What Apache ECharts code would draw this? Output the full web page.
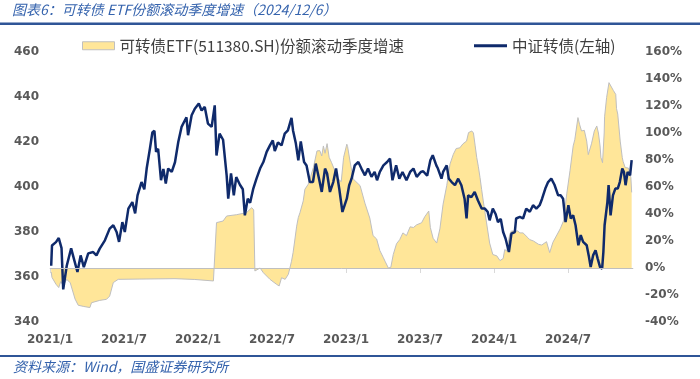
<!DOCTYPE html>
<html><head><meta charset="utf-8">
<script src="https://cdn.jsdelivr.net/npm/echarts@6/dist/echarts.min.js"></script>
<style>html,body{margin:0;padding:0;background:#fff}#c{width:700px;height:379px}</style>
</head><body><div id="c"></div>
<script>
const tickLabels = ['2021/1','2021/7','2022/1','2022/7','2023/1','2023/7','2024/1','2024/7'];
const etfName = '可转债ETF(511380.SH)份额滚动季度增速';
const cbName = '中证转债(左轴)';

const cbDates = ['2021-01-04','2021-01-06','2021-01-16','2021-01-23','2021-01-30','2021-02-03','2021-02-11','2021-02-21','2021-02-27','2021-03-08','2021-03-16','2021-03-24','2021-04-04','2021-04-16','2021-04-24','2021-05-02','2021-05-15','2021-05-27','2021-06-05','2021-06-13','2021-06-19','2021-06-27','2021-07-03','2021-07-12','2021-07-22','2021-07-29','2021-08-04','2021-08-14','2021-08-21','2021-08-27','2021-09-04','2021-09-10','2021-09-15','2021-09-19','2021-09-24','2021-10-01','2021-10-07','2021-10-13','2021-10-19','2021-10-28','2021-11-05','2021-11-13','2021-11-21','2021-12-03','2021-12-07','2021-12-16','2021-12-24','2022-01-03','2022-01-10','2022-01-18','2022-01-26','2022-02-04','2022-02-11','2022-02-15','2022-02-22','2022-03-02','2022-03-11','2022-03-15','2022-03-22','2022-03-29','2022-04-04','2022-04-13','2022-04-20','2022-04-25','2022-05-02','2022-05-08','2022-05-16','2022-05-24','2022-06-02','2022-06-10','2022-06-18','2022-06-26','2022-07-03','2022-07-08','2022-07-16','2022-07-25','2022-08-02','2022-08-10','2022-08-19','2022-08-23','2022-08-30','2022-09-05','2022-09-11','2022-09-19','2022-09-25','2022-10-03','2022-10-11','2022-10-18','2022-10-27','2022-11-02','2022-11-10','2022-11-15','2022-11-22','2022-11-30','2022-12-07','2022-12-15','2022-12-23','2023-01-03','2023-01-09','2023-01-15','2023-01-23','2023-02-01','2023-02-08','2023-02-16','2023-02-23','2023-03-03','2023-03-11','2023-03-17','2023-03-24','2023-04-02','2023-04-11','2023-04-18','2023-04-24','2023-05-03','2023-05-11','2023-05-19','2023-05-29','2023-06-07','2023-06-15','2023-06-23','2023-07-03','2023-07-09','2023-07-19','2023-07-27','2023-08-02','2023-08-11','2023-08-15','2023-08-24','2023-08-28','2023-09-06','2023-09-11','2023-09-18','2023-09-26','2023-10-04','2023-10-12','2023-10-20','2023-10-25','2023-10-29','2023-11-06','2023-11-14','2023-11-22','2023-12-01','2023-12-09','2023-12-16','2023-12-21','2023-12-29','2024-01-05','2024-01-11','2024-01-18','2024-01-24','2024-01-30','2024-02-07','2024-02-13','2024-02-21','2024-02-24','2024-03-04','2024-03-12','2024-03-20','2024-03-29','2024-04-06','2024-04-14','2024-04-22','2024-04-28','2024-05-06','2024-05-13','2024-05-21','2024-05-29','2024-06-07','2024-06-13','2024-06-19','2024-06-25','2024-07-02','2024-07-08','2024-07-14','2024-07-20','2024-07-27','2024-08-02','2024-08-08','2024-08-17','2024-08-22','2024-08-27','2024-09-02','2024-09-08','2024-09-13','2024-09-19','2024-09-24','2024-09-27','2024-09-30','2024-10-07','2024-10-10','2024-10-15','2024-10-21','2024-10-27','2024-11-02','2024-11-07','2024-11-13','2024-11-17','2024-11-21','2024-11-26','2024-12-02','2024-12-06'];
const cbValues = [365,374,375.5,377.3,372.8,354.5,365,372.7,368.3,362.2,369.6,364.4,370.5,371.1,369.6,372.6,376.3,381.5,383,380,375.6,384.4,380,390.4,393.3,388.3,396.3,402.2,399,408.2,417,424.2,425,415.6,417,403,408,401.5,408.2,406.7,411,420,426.7,431,423,431.9,434.8,437.1,434,435.6,428.2,426.7,436.3,414,423.7,421,405.2,394.8,406,396.3,404.4,401,399,387.4,394.8,393,399.3,403.7,408.2,411.1,415.6,418.5,420.7,416,419.8,418.5,423.7,425.2,430.7,425,419.3,411.9,420.3,411.1,409.6,402.2,402.2,410.4,403,397.8,408.2,406,397.8,402.2,408.2,399.3,388.9,394.8,400.8,403.7,409.6,411.1,408.2,405.2,408.2,404.5,406.7,403,406.7,409.6,411.1,412.6,403,409.6,403.7,406.7,403,406.7,408.2,404.5,406.7,407,405,411.9,414.1,409.6,408.2,403.7,406.7,409.6,403.7,402.2,400.8,403.7,400.8,394.8,386,396.3,395.5,397.8,394,390.4,390.4,389,385.2,390.4,388,384.4,385.8,380,377.1,371.1,379.3,380,386,386.7,386,390.4,389,391.9,390.4,391.9,394.8,399.3,402.2,403.7,401,396.3,396.3,394.8,384.4,391.9,386,387.4,383,374.1,378.6,375.6,374.1,369.6,364.4,369.6,371.9,368.3,364.4,363.7,371,383,393.3,400.8,387.4,396.3,399.3,399.3,402.2,408.2,406.7,400.8,406.7,405.2,411.9];

const etfDates = ['2021-01-04','2021-01-06','2021-01-16','2021-01-23','2021-01-28','2021-02-03','2021-02-11','2021-02-19','2021-03-02','2021-03-10','2021-03-24','2021-04-08','2021-04-12','2021-04-16','2021-05-02','2021-05-19','2021-05-27','2021-06-05','2021-06-17','2021-08-10','2021-11-05','2021-12-24','2022-02-08','2022-02-12','2022-02-15','2022-03-02','2022-03-11','2022-04-05','2022-04-29','2022-05-12','2022-05-17','2022-05-20','2022-05-24','2022-06-02','2022-06-10','2022-06-26','2022-07-12','2022-07-19','2022-07-25','2022-08-03','2022-08-11','2022-08-15','2022-08-19','2022-08-23','2022-08-27','2022-09-01','2022-09-05','2022-09-09','2022-09-17','2022-09-21','2022-09-29','2022-10-03','2022-10-12','2022-10-16','2022-10-21','2022-10-24','2022-10-28','2022-11-02','2022-11-06','2022-11-10','2022-11-15','2022-11-20','2022-11-26','2022-12-04','2022-12-12','2022-12-20','2022-12-26','2023-01-03','2023-01-05','2023-01-11','2023-01-19','2023-02-05','2023-02-16','2023-02-27','2023-03-07','2023-03-16','2023-03-24','2023-04-02','2023-04-06','2023-04-14','2023-04-20','2023-04-26','2023-05-04','2023-05-12','2023-05-20','2023-05-29','2023-06-07','2023-06-15','2023-06-23','2023-07-05','2023-07-13','2023-07-23','2023-07-27','2023-08-03','2023-08-12','2023-08-20','2023-08-28','2023-09-06','2023-09-14','2023-09-22','2023-09-29','2023-10-08','2023-10-16','2023-10-25','2023-10-30','2023-11-07','2023-11-11','2023-11-15','2023-11-19','2023-11-23','2023-11-27','2023-12-01','2023-12-05','2023-12-13','2023-12-21','2023-12-29','2024-01-08','2024-01-16','2024-01-20','2024-01-24','2024-01-28','2024-02-02','2024-02-09','2024-02-13','2024-02-17','2024-02-28','2024-03-04','2024-03-12','2024-03-24','2024-03-29','2024-04-07','2024-04-19','2024-04-27','2024-05-09','2024-05-17','2024-05-21','2024-05-25','2024-05-29','2024-06-12','2024-06-20','2024-06-28','2024-07-06','2024-07-14','2024-07-18','2024-07-26','2024-07-30','2024-08-04','2024-08-11','2024-08-17','2024-08-21','2024-08-23','2024-08-29','2024-09-05','2024-09-11','2024-09-15','2024-09-19','2024-09-21','2024-09-25','2024-09-29','2024-09-30','2024-10-05','2024-10-11','2024-10-15','2024-10-22','2024-10-28','2024-10-30','2024-11-02','2024-11-08','2024-11-13','2024-11-15','2024-11-20','2024-11-28','2024-12-04','2024-12-06'];
const etfGrowth = [-3,-7,-12,-14.5,-10,-13,-8.4,-11,-23,-27.6,-28.5,-29.3,-25.7,-24.4,-24,-23.2,-20.8,-10.8,-8.4,-8.2,-7.9,-8.5,-9.6,-9.6,33.6,34.8,38.5,39.5,41,44.7,43,-2.2,-2,0,-3.5,-8.4,-12,-13.3,-7.2,-8.4,-4.7,0,5,11.4,20,31,37.4,41,49.7,58.3,62,65.7,74.4,75.6,86.7,88,87,83,90.4,85,92.1,82,78,72,66,64,82,91.7,90,79.3,66,61,48,37,24,21.5,13,7.6,5,0,0.5,10,18,21,26,24,30.5,30,32,33.5,38,42.2,30,22,18.5,29,47.2,61,77,84.2,88.5,89,92,94,100.3,101.5,100,91,81.8,75,67,58,49.7,34,18.5,10,9,5.5,6.3,7,13.7,12.6,25,27.4,28.7,27.4,26,26,22.5,21,20,17.6,17,19.5,11.4,10.6,19,18,29,34.8,55,72,90.4,95,111.4,106.5,101.5,102,94,84,86,92,101.5,105.2,100,90.4,82,78,100,112,126.2,137.3,136,131.5,128.6,118,114,94,81.8,79,74.4,74,67,56];

function toMonths(s){
  const p = s.split('-').map(Number);
  const dim = new Date(p[0], p[1], 0).getDate();
  return (p[0]-2021)*12 + (p[1]-1) + (p[2]-1)/dim;
}
const tickValues = tickLabels.map((_, i) => i*6);
const cbData = cbDates.map((d, i) => [toMonths(d), cbValues[i]]);
const etfData = etfDates.map((d, i) => [toMonths(d), etfGrowth[i]]);

const axisFont = {fontFamily:'DejaVu Sans', fontWeight:'bold', fontSize:12, color:'#595959'};
const legendText = {fontFamily:'Noto Sans CJK SC', fontSize:15.5, color:'#404040'};
const chart = echarts.init(document.getElementById('c'), null, {renderer:'canvas'});
chart.setOption({
  animation:false,
  backgroundColor:'#ffffff',
  grid:{left:50, right:67, top:52, bottom:57, containLabel:false},
  legend:[
    {left:82, top:38, padding:0, itemWidth:32, itemHeight:8, itemGap:0, selectedMode:false,
     textStyle:legendText,
     data:[{name:etfName, icon:'rect', itemStyle:{color:'#FFE699', borderColor:'#bfbfbf', borderWidth:1}}]},
    {left:474, top:38, padding:0, itemWidth:33, itemHeight:3, itemGap:0, selectedMode:false,
     textStyle:legendText,
     data:[{name:cbName, icon:'rect', itemStyle:{color:'#0f2a6b'}}]}
  ],
  xAxis:{type:'value', min:0, max:47.27, interval:6,
    splitLine:{show:false},
    axisLine:{show:true, lineStyle:{color:'#d9d9d9', width:1}},
    axisTick:{show:true, length:5, lineStyle:{color:'#d9d9d9'}, customValues:tickValues},
    axisLabel:Object.assign({margin:12, customValues:tickValues,
      formatter:(v)=>tickLabels[Math.round(v/6)]||''}, axisFont)
  },
  yAxis:[
    {type:'value', min:340, max:460, interval:20, position:'left',
     splitLine:{show:false}, axisLine:{show:false}, axisTick:{show:false},
     axisLabel:Object.assign({margin:11}, axisFont)},
    {type:'value', min:-40, max:160, interval:20, position:'right',
     splitLine:{show:false}, axisLine:{show:false}, axisTick:{show:false},
     axisLabel:Object.assign({margin:12, formatter:'{value}%'}, axisFont)}
  ],
  series:[
    {name:etfName, type:'line', yAxisIndex:1, data:etfData, symbol:'none',
     lineStyle:{color:'#bfbfbf', width:1}, itemStyle:{color:'#FFE699'},
     areaStyle:{color:'#FFE699', opacity:1},
     markLine:{silent:true, symbol:'none', label:{show:false},
       lineStyle:{color:'#bfbfbf', width:1, type:'solid'}, data:[{yAxis:0}]},
     z:2},
    {name:cbName, type:'line', yAxisIndex:0, data:cbData, symbol:'none',
     lineStyle:{color:'#0f2a6b', width:2.5}, itemStyle:{color:'#0f2a6b'}, z:3}
  ],
  graphic:[
    {type:'text', left:12, top:3, style:{text:'图表6：可转债 ETF份额滚动季度增速（2024/12/6）',
      font:'italic 14px "Noto Sans CJK SC"', fill:'#3563ad'}},
    {type:'rect', left:0, top:22.5, shape:{x:0, y:0, width:700, height:2.5}, style:{fill:'#2f5597'}},
    {type:'rect', left:0, top:355, shape:{x:0, y:0, width:700, height:2}, style:{fill:'#2f5597'}},
    {type:'text', left:13, top:360, style:{text:'资料来源：Wind，国盛证券研究所',
      font:'italic 14px "Noto Sans CJK SC"', fill:'#3563ad'}}
  ]
});
</script></body></html>
